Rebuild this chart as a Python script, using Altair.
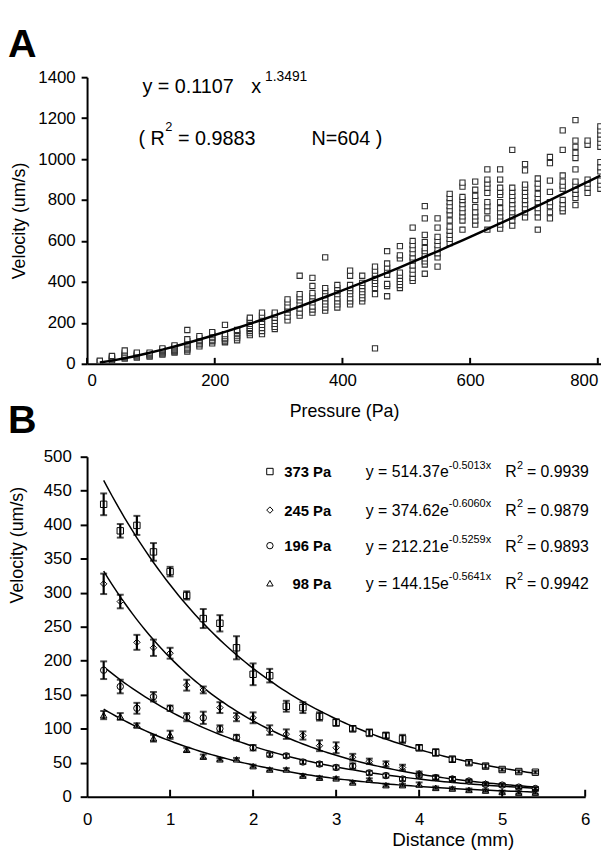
import altair as alt
import pandas as pd

FONT = "Liberation Sans"

# ---------------- Panel A data ----------------
pressure_columns = [20, 39, 59, 78, 98, 118, 137, 157, 176, 196, 216, 235, 255, 274,
                    294, 314, 333, 353, 373, 392, 412, 431, 451, 470, 490, 510, 529,
                    549, 568, 588, 608, 627, 647, 666, 686, 706, 725, 745, 765, 784, 804]
velocity_columns = [
    [8, 12, 15],
    [15, 20, 25, 30, 35, 38],
    [25, 30, 35, 40, 45, 55, 65],
    [30, 35, 40, 45, 50, 55],
    [35, 40, 45, 50, 55],
    [45, 50, 55, 60, 65, 70, 75],
    [55, 60, 65, 70, 75, 80, 85, 90],
    [60, 70, 75, 80, 90, 95, 100, 110, 120, 165],
    [85, 95, 100, 110, 115, 125, 135],
    [100, 110, 115, 125, 130, 140, 150, 155],
    [105, 110, 120, 125, 135, 145, 190],
    [115, 125, 135, 145, 150, 160, 165],
    [140, 150, 160, 170, 175, 185, 195, 205, 215, 225],
    [145, 160, 175, 190, 205, 220, 235, 250],
    [170, 180, 195, 210, 225, 240, 250],
    [212, 230, 250, 265, 280, 300, 315],
    [235, 250, 270, 290, 310, 325, 340, 430],
    [250, 265, 280, 300, 315, 330, 345, 380, 420],
    [260, 275, 290, 305, 320, 335, 355, 370, 520],
    [275, 290, 305, 320, 340, 355, 370, 385],
    [290, 305, 320, 340, 355, 370, 385, 430, 455],
    [305, 320, 335, 350, 365, 380, 395, 430],
    [75, 340, 370, 390, 405, 420, 440, 455, 475],
    [330, 380, 390, 435, 455, 470, 490, 550],
    [370, 385, 400, 415, 430, 445, 515, 530, 575],
    [405, 420, 440, 460, 480, 505, 520, 540, 560, 580, 600, 665],
    [440, 485, 500, 515, 535, 550, 565, 595, 630, 710, 770],
    [475, 520, 540, 560, 580, 600, 620, 665, 710],
    [590, 610, 630, 650, 670, 700, 730, 750, 770, 790, 810, 830],
    [655, 700, 720, 740, 760, 780, 800, 815, 865, 885],
    [680, 700, 720, 740, 765, 800, 820, 850, 890],
    [655, 710, 745, 770, 790, 835, 860, 880, 900, 950],
    [660, 680, 700, 720, 740, 760, 790, 825, 840, 860, 900, 950],
    [675, 700, 720, 740, 760, 780, 800, 820, 840, 860, 1045],
    [715, 740, 760, 780, 800, 820, 840, 860, 875, 945, 975],
    [655, 715, 740, 760, 790, 810, 830, 860, 880, 905],
    [710, 740, 770, 790, 840, 895, 980, 1010],
    [745, 760, 780, 800, 855, 870, 890, 920, 1045, 1140],
    [775, 810, 830, 850, 870, 890, 950, 1005, 1030, 1060, 1090, 1190],
    [835, 860, 880, 900, 1070, 1090],
    [855, 875, 895, 940, 960, 985, 1060, 1080, 1100, 1120, 1140, 1160],
]
power_coef = 0.1107
power_exp = 1.3491
pressure_ticks = [0, 200, 400, 600, 800]
velocity_ticks_a = [0, 200, 400, 600, 800, 1000, 1200, 1400]

# ---------------- Panel B data ----------------
distance_mm = [0.2, 0.4, 0.6, 0.8, 1.0, 1.2, 1.4, 1.6, 1.8, 2.0, 2.2, 2.4, 2.6, 2.8,
               3.0, 3.2, 3.4, 3.6, 3.8, 4.0, 4.2, 4.4, 4.6, 4.8, 5.0, 5.2, 5.4]
vel_373 = [430, 391, 399, 360, 331, 296, 262, 255, 219, 180, 178, 133, 131, 118, 109,
           100, 94, 90, 85, 72, 65, 55, 50, 45, 40, 37, 36]
err_373 = [16, 10, 14, 13, 7, 6, 14, 12, 17, 16, 10, 8, 8, 6, 5, 4, 5, 4, 6, 4, 5, 4, 3, 3, 2, 2, 2]
vel_245 = [313, 287, 227, 219, 211, 164, 157, 131, 117, 116, 98, 92, 90, 75, 72, 58, 52,
           48, 43, 34, 28, 26, 23, 19, 17, 14, 12]
err_245 = [15, 10, 11, 12, 8, 8, 5, 8, 6, 8, 7, 7, 6, 8, 8, 5, 4, 4, 4, 3, 3, 3, 2, 2, 2, 2, 2]
vel_196 = [186, 162, 130, 147, 130, 117, 116, 100, 87, 72, 62, 60, 51, 48, 43, 45, 35,
           31, 26, 31, 28, 26, 23, 18, 17, 14, 12]
err_196 = [13, 10, 8, 7, 4, 6, 9, 5, 4, 4, 3, 3, 3, 3, 3, 4, 3, 3, 3, 3, 3, 3, 2, 2, 2, 2, 2]
vel_98 = [120, 118, 105, 86, 91, 69, 59, 55, 55, 45, 40, 40, 31, 28, 27, 21, 25, 17, 17,
          18, 13, 12, 10, 9, 7, 6, 6]
err_98 = [6, 5, 3, 5, 6, 3, 3, 2, 2, 2, 2, 2, 2, 2, 2, 2, 2, 2, 2, 3, 2, 2, 2, 2, 2, 2, 2]
series_names = ["373 Pa", "245 Pa", "196 Pa", "98 Pa"]
series_shapes = ["square", "diamond", "circle", "triangle-up"]
fit_a = [514.37, 374.62, 212.21, 144.15]
fit_b = [-0.5013, -0.6060, -0.5259, -0.5641]
fit_a_text = ["514.37", "374.62", "212.21", "144.15"]
fit_b_text = ["-0.5013x", "-0.6060x", "-0.5259x", "-0.5641x"]
fit_r2_text = ["0.9939", "0.9879", "0.9893", "0.9942"]
distance_ticks = [0, 1, 2, 3, 4, 5, 6]
velocity_ticks_b = [0, 50, 100, 150, 200, 250, 300, 350, 400, 450, 500]

# ---------------- tables ----------------
dfA = pd.DataFrame(
    [(p, v) for p, col in zip(pressure_columns, velocity_columns) for v in col],
    columns=["pressure", "velocity"],
)
dfA_fit = pd.DataFrame({"pressure": pressure_columns})
vel_b = [vel_373, vel_245, vel_196, vel_98]
err_b = [err_373, err_245, err_196, err_98]
dfB = pd.DataFrame(
    [(s, d, v, e) for s, vs, es in zip(series_names, vel_b, err_b)
     for d, v, e in zip(distance_mm, vs, es)],
    columns=["series", "distance", "velocity", "err"],
)
one = pd.DataFrame({"k": [0]})


def txt(s, x, y, size, weight="normal", align="left"):
    return alt.Chart(one).mark_text(
        text=s, align=align, baseline="alphabetic", font=FONT, fontSize=size,
        fontWeight=weight, color="black"
    ).encode(x=alt.value(x), y=alt.value(y))


# ---------------- Panel A ----------------
WA, HA = 520, 290
xA = alt.X("pressure:Q", scale=alt.Scale(domain=[0, 805], nice=False, zero=False),
           axis=alt.Axis(values=pressure_ticks, title="Pressure (Pa)", ticks=False,
                         tickSize=0, labelPadding=9, labelFlush=4, titlePadding=14,
                         format="d"))
yA = alt.Y("velocity:Q", scale=alt.Scale(domain=[0, 1400], nice=False),
           axis=alt.Axis(values=velocity_ticks_a, title="Velocity (um/s)", tickSize=6,
                         labelPadding=6, titlePadding=9, format="d"))

pointsA = alt.Chart(dfA).mark_point(
    shape="square", size=28, filled=True, fill="white", stroke="#2e2e2e",
    strokeWidth=1.1, opacity=1, clip=True
).encode(x=xA, y=yA)
fitA = alt.Chart(dfA_fit).transform_calculate(
    velocity=f"{power_coef}*pow(datum.pressure,{power_exp})"
).mark_line(color="black", strokeWidth=2.5, clip=True).encode(x=xA, y=yA)
ticksA = alt.Chart(pd.DataFrame({"pressure": pressure_ticks})).mark_rule(
    color="black", strokeWidth=2
).encode(x=xA, y=alt.value(HA), y2=alt.value(HA - 6))

panelA = alt.layer(
    pointsA, fitA, ticksA,
    txt("A", -80, -20, 40, "bold"),
    txt("y = 0.1107", 56, 16, 20),
    txt("x", 166, 16, 20),
    txt("1.3491", 180, 4, 14),
    txt("( R", 52, 69, 20),
    txt("2", 79, 54, 13),
    txt("= 0.9883", 92, 69, 20),
    txt("N=604 )", 227, 69, 20),
).properties(width=WA, height=HA)

# ---------------- Panel B ----------------
WB, HB = 504, 344
xB = alt.X("distance:Q", scale=alt.Scale(domain=[0, 6], nice=False),
           axis=alt.Axis(values=distance_ticks, title="Distance (mm)", ticks=False,
                         tickSize=0, labelPadding=15, labelFlush=False, titleX=370,
                         titleY=49.5, titleAlign="center", titleBaseline="alphabetic",
                         titleFontSize=19, format="d"))
ySc = alt.Scale(domain=[0, 500], nice=False)
yAxB = alt.Axis(values=velocity_ticks_b, title="Velocity (um/s)", tickSize=7,
                labelPadding=9, titleY=89, titlePadding=17, format="d")


def yB(field):
    return alt.Y(f"{field}:Q", scale=ySc, axis=yAxB)


shape_enc = alt.Shape("series:N", scale=alt.Scale(domain=series_names, range=series_shapes),
                      legend=None)

fit_layers = []
for name, a, b in zip(series_names, fit_a, fit_b):
    fit_layers.append(
        alt.Chart(alt.sequence(start=0.2, stop=5.401, step=0.05, as_="distance"))
        .transform_calculate(velocity=f"{a}*exp({b}*datum.distance)")
        .mark_line(color="black", strokeWidth=1.5)
        .encode(x=xB, y=yB("velocity"))
    )

pointsB = alt.Chart(dfB).mark_point(
    filled=True, fill="white", stroke="black", strokeWidth=1, size=42, opacity=1
).encode(x=xB, y=yB("velocity"), shape=shape_enc)

err_base = alt.Chart(dfB).transform_calculate(
    lo="datum.velocity - datum.err", hi="datum.velocity + datum.err"
)
err_rule = err_base.mark_rule(color="black", strokeWidth=2.2).encode(
    x=xB, y=yB("lo"), y2="hi:Q")
err_lo = err_base.mark_tick(orient="horizontal", size=7, thickness=2, color="black").encode(
    x=xB, y=yB("lo"))
err_hi = err_base.mark_tick(orient="horizontal", size=7, thickness=2, color="black").encode(
    x=xB, y=yB("hi"))

ticksB = alt.Chart(pd.DataFrame({"distance": distance_ticks[1:]})).mark_rule(
    color="black", strokeWidth=2
).encode(x=xB, y=alt.value(HB), y2=alt.value(HB - 7))

legend_rows = [15, 54, 90, 128]
legend_layers = []
for name, shp, row, at, bt, r2 in zip(series_names, series_shapes, legend_rows,
                                      fit_a_text, fit_b_text, fit_r2_text):
    legend_layers += [
        alt.Chart(one).mark_point(shape=shp, filled=True, fill="white", stroke="black",
                                  strokeWidth=1, size=42, opacity=1)
        .encode(x=alt.value(185), y=alt.value(row)),
        txt(name, 247, row + 5.5, 15, "bold", "right"),
        txt(f"y = {at}e", 282, row + 6, 16),
        txt(bt, 366, row - 3, 11),
        txt("R", 423, row + 6, 16),
        txt("2", 435, row - 3, 11),
        txt(f"= {r2}", 445, row + 6, 16),
    ]

panelB = alt.layer(
    *fit_layers, pointsB, err_rule, err_lo, err_hi, ticksB,
    txt("B", -80, -24, 40, "bold"),
    *legend_layers,
).properties(width=WB, height=HB)

chart = alt.vconcat(panelA, panelB, spacing=94, bounds="flush").properties(
    padding={"left": 0, "top": 13, "right": 0, "bottom": 0}
).configure_view(stroke=None).configure_axis(
    grid=False, domainColor="black", domainWidth=2, tickColor="black", tickWidth=2,
    labelColor="black", labelFont=FONT, labelFontSize=17, titleFont=FONT,
    titleFontSize=18, titleFontWeight="normal", titleColor="black"
)

chart.save("out.html", embed_options={"renderer": "svg", "actions": False})
